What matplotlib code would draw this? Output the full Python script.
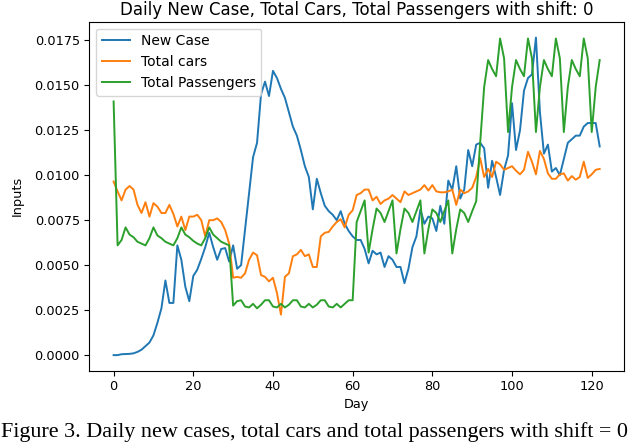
import matplotlib
matplotlib.use("Agg")
import matplotlib.pyplot as plt
import numpy as np

days = list(range(123))

new_case = [0.00, 0.00, 0.05, 0.06, 0.07, 0.10, 0.18, 0.30, 0.50, 0.70,
            1.10, 1.80, 2.60, 4.15, 2.90, 2.90, 6.10, 5.30, 3.80, 3.00,
            4.40, 4.75, 5.35, 6.00, 6.80, 6.00, 5.30, 5.90, 5.95, 5.20,
            6.10, 4.80, 5.00, 7.00, 9.00, 11.00, 11.80, 14.50, 15.20, 14.40,
            15.80, 15.40, 14.80, 14.30, 13.50, 12.70, 12.20, 11.40, 10.50, 9.90,
            8.10, 9.80, 9.00, 8.30, 8.00, 7.80, 7.50, 8.00, 7.30, 6.90,
            6.60, 6.40, 6.40, 5.90, 5.10, 5.80, 5.60, 5.70, 4.90, 5.50,
            5.30, 4.90, 4.90, 4.00, 4.80, 6.00, 6.60, 8.10, 7.30, 7.70,
            7.60, 6.90, 8.30, 7.30, 9.70, 9.20, 10.50, 8.70, 9.20, 11.40,
            10.50, 11.70, 11.80, 11.50, 9.30, 10.80, 9.90, 8.90, 10.30, 11.10,
            14.00, 11.40, 12.50, 14.70, 15.40, 15.60, 17.65, 13.50, 11.20, 11.70,
            10.20, 10.40, 10.00, 10.90, 11.80, 12.00, 12.20, 12.20, 12.70, 12.90,
            12.90, 12.90, 11.60]

total_cars = [9.65, 9.10, 8.60, 9.20, 9.40, 9.20, 8.35, 7.90, 8.50, 7.70,
              8.45, 8.25, 7.90, 7.90, 8.35, 7.85, 7.15, 7.70, 6.95, 7.70,
              7.70, 7.80, 7.50, 6.60, 7.50, 7.50, 7.60, 7.40, 6.95, 6.20,
              4.30, 4.35, 4.30, 4.55, 5.30, 5.70, 5.55, 4.45, 4.35, 4.10,
              4.30, 3.45, 2.25, 4.35, 4.55, 5.50, 5.60, 5.85, 5.50, 5.60,
              4.90, 4.90, 6.60, 6.80, 6.85, 7.15, 7.40, 7.55, 7.10, 7.80,
              8.05, 8.90, 9.00, 9.20, 9.20, 8.60, 8.80, 8.40, 8.60, 8.70,
              8.90, 8.70, 8.50, 9.10, 8.90, 9.00, 9.10, 9.20, 9.45, 9.15,
              9.45, 9.10, 9.05, 9.05, 9.10, 9.20, 8.35, 9.20, 9.00, 9.10,
              9.30, 9.90, 10.95, 9.90, 10.35, 9.90, 10.75, 10.60, 10.30, 10.40,
              10.50, 10.25, 10.05, 10.30, 11.30, 10.75, 10.05, 11.35, 10.90, 10.10,
              9.80, 9.80, 10.05, 10.10, 9.70, 9.95, 9.75, 9.90, 10.75, 9.85,
              10.05, 10.30, 10.35]

total_passengers = [14.10, 6.10, 6.40, 7.10, 6.70, 6.55, 6.30, 6.20, 6.10, 6.50,
                    7.10, 6.65, 6.50, 6.30, 6.20, 6.10, 6.50, 7.10, 6.70, 6.55,
                    6.35, 6.20, 6.10, 6.50, 7.10, 6.70, 6.50, 6.30, 6.20, 6.10,
                    2.75, 3.00, 3.05, 2.70, 2.65, 2.85, 2.60, 2.80, 3.05, 3.05,
                    2.70, 2.65, 2.85, 2.65, 2.80, 3.05, 3.05, 2.70, 2.65, 2.85,
                    2.65, 2.80, 3.05, 3.05, 2.70, 2.65, 2.85, 2.65, 2.85, 3.05,
                    3.05, 7.40, 8.00, 8.60, 5.70, 7.00, 8.15, 7.90, 7.40, 8.00,
                    8.60, 5.65, 7.00, 8.15, 7.90, 7.40, 8.00, 8.60, 5.65, 7.00,
                    8.10, 7.90, 7.40, 8.00, 8.60, 5.65, 7.00, 8.10, 7.90, 7.40,
                    8.00, 8.55, 11.80, 14.90, 16.40, 15.90, 15.50, 17.60, 16.50, 12.40,
                    14.90, 16.40, 15.90, 15.50, 17.60, 16.50, 12.40, 14.90, 16.40, 15.90,
                    15.50, 17.60, 16.50, 12.40, 14.90, 16.40, 15.90, 15.50, 17.60, 16.50,
                    12.40, 14.90, 16.40]

scale = 1e-3
title = "Daily New Case, Total Cars, Total Passengers with shift: 0"
caption = "Figure 3. Daily new cases, total cars and total passengers with shift = 0"

fs = 9.3
fig = plt.figure(figsize=(6.3, 4.42), dpi=100)
ax = fig.add_axes([89.3 / 630, (442 - 371) / 442, (624 - 89.3) / 630, (371 - 21.7) / 442])

lw = 1.4
ax.plot(days, np.array(new_case) * scale, color="#1f77b4", lw=lw, label="New Case")
ax.plot(days, np.array(total_cars) * scale, color="#ff7f0e", lw=lw, label="Total cars")
ax.plot(days, np.array(total_passengers) * scale, color="#2ca02c", lw=lw, label="Total Passengers")

ax.set_title(title, fontsize=12, pad=5)
ax.set_xlabel("Day", fontsize=fs, labelpad=3)
ax.set_ylabel("Inputs", fontsize=fs, labelpad=8)
ax.tick_params(labelsize=fs, width=0.8, length=3.3)
ax.set_xticks([0, 20, 40, 60, 80, 100, 120])
ax.set_yticks(np.arange(0, 0.0176, 0.0025))
ax.yaxis.set_major_formatter(matplotlib.ticker.FormatStrFormatter("%.4f"))
ax.legend(loc="upper left", fontsize=10, handlelength=2.0)

fig.text(1 / 630, 5 / 442, caption, family="Liberation Serif", fontsize=15.9,
         ha="left", va="baseline")

fig.savefig("out.png", dpi=100)
